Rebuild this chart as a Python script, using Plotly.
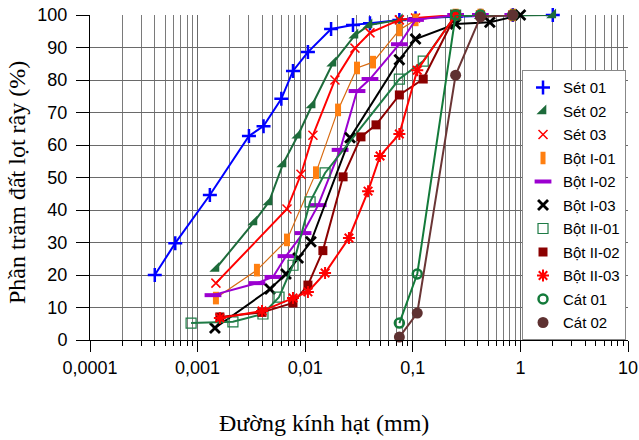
import plotly.graph_objects as go

# ---- data (diameter in mm, percent passing) ----
names = ["Sét 01", "Sét 02", "Sét 03", "Bột I-01", "Bột I-02", "Bột I-03",
         "Bột II-01", "Bột II-02", "Bột II-03", "Cát 01", "Cát 02"]

set01_x = [0.0004, 0.00062, 0.0013, 0.0030, 0.0041, 0.0060, 0.0077, 0.0106, 0.0174, 0.0278, 0.040, 0.075, 0.106, 0.25, 0.425, 0.85, 2.0]
set01_y = [20, 29.8, 44.6, 62.8, 65.8, 74.2, 82.8, 88.6, 95.7, 96.9, 97.5, 98.5, 99, 99.5, 99.8, 100, 100]

set02_x = [0.00148, 0.00334, 0.00461, 0.00622, 0.00857, 0.0116, 0.0181, 0.0290, 0.0392, 0.075, 0.25, 0.425, 0.85, 2.0]
set02_y = [22, 36.3, 42.5, 54.2, 63, 72.3, 85.2, 93.8, 96.9, 98.5, 99.7, 99.8, 100, 100]

set03_x = [0.00148, 0.00677, 0.00914, 0.0118, 0.0189, 0.0290, 0.0400, 0.075, 0.106, 0.25, 0.425, 0.85]
set03_y = [17.5, 40.3, 51, 63, 80, 89.8, 94.5, 98.5, 99.1, 100, 100, 100]

botI01_x = [0.00148, 0.00356, 0.00677, 0.0126, 0.0202, 0.0303, 0.0427, 0.075, 0.106, 0.25, 0.425, 0.85]
botI01_y = [12.9, 21.5, 30.8, 51.5, 70.8, 83.7, 85.5, 95.4, 98.5, 100, 100, 100]

botI02_x = [0.00139, 0.00356, 0.00502, 0.00663, 0.00955, 0.0132, 0.0211, 0.0303, 0.0400, 0.075, 0.106, 0.25, 0.425, 0.85]
botI02_y = [13.8, 17.5, 19.4, 25.8, 32.9, 41.5, 58.5, 76.6, 80.3, 91, 98.5, 100, 100, 100]

botI03_x = [0.00145, 0.00471, 0.00663, 0.0086, 0.0113, 0.0261, 0.075, 0.106, 0.25, 0.52, 1.0]
botI03_y = [3.7, 15.7, 20.3, 25.2, 30.2, 62.2, 86.2, 92.6, 97.2, 97.8, 100]

botII01_x = [0.00087, 0.00213, 0.00405, 0.00571, 0.0077, 0.0111, 0.0153, 0.075, 0.125, 0.25]
botII01_y = [5.2, 5.6, 8, 13.2, 23, 42.5, 51.4, 80.3, 85.8, 100]

botII02_x = [0.00161, 0.00397, 0.0077, 0.0106, 0.0146, 0.0225, 0.0330, 0.0455, 0.075, 0.125, 0.25]
botII02_y = [7.1, 8.5, 11.4, 16.9, 27.5, 50.2, 62.5, 66.2, 75.4, 80.3, 100]

botII03_x = [0.00161, 0.00397, 0.0077, 0.0106, 0.0153, 0.0255, 0.0384, 0.0496, 0.075, 0.11, 0.25]
botII03_y = [6.8, 8.9, 12.9, 14.8, 20.6, 31.4, 45.8, 56.6, 63.4, 83, 100]

cat01_x = [0.075, 0.11, 0.25, 0.425, 0.85]
cat01_y = [5.2, 20.3, 100, 100, 100]

cat02_x = [0.075, 0.11, 0.25, 0.425, 0.85]
cat02_y = [0.9, 8.3, 81.5, 99.4, 100]

xs = [set01_x, set02_x, set03_x, botI01_x, botI02_x, botI03_x, botII01_x, botII02_x, botII03_x, cat01_x, cat02_x]
ys = [set01_y, set02_y, set03_y, botI01_y, botI02_y, botI03_y, botII01_y, botII02_y, botII03_y, cat01_y, cat02_y]

x_tickvals = [0.0001, 0.001, 0.01, 0.1, 1, 10]
x_ticktext = ["0,0001", "0,001", "0,01", "0,1", "1", "10"]

x_title = "Đường kính hạt (mm)"
y_title = "Phần trăm đất lọt rây (%)"

# ---- styles: (line color, line width, marker symbol, marker size, marker color, marker line width) ----
styles = [
    ("#0000FF", 2, "cross-thin", 10, "#0000FF", 2.5),
    ("#1D6B3B", 2, "triangle-se", 11, "#1D6B3B", 0),
    ("#FF0000", 2, "x-thin", 9, "#FF0000", 1.5),
    ("#D86A10", 1.2, "line-ns", 9, "#FF7F10", 6),
    ("#9B00D0", 2, "line-ew", 12, "#9B00D0", 4),
    ("#000000", 2, "x-thin", 10, "#000000", 2.8),
    ("#1E7B45", 2, "square-open", 10, "#1E7B45", 1.2),
    ("#8B0000", 2, "square", 9, "#8B0000", 0),
    ("#FF0000", 2, "asterisk", 10, "#FF0000", 2),
    ("#137A3A", 2, "circle-open", 9, "#137A3A", 2.5),
    ("#6A3535", 2, "circle", 11, "#5E3131", 0),
]

fig = go.Figure()
for name, x, y, st in zip(names, xs, ys, styles):
    lc, lw, sym, ms, mc, mlw = st
    fig.add_trace(go.Scatter(
        x=x, y=y, mode="lines+markers", name=name, showlegend=False,
        line=dict(color=lc, width=lw),
        marker=dict(symbol=sym, size=ms, color=mc, line=dict(color=mc, width=mlw)),
        cliponaxis=False, legendgroup=name,
    ))
for name, st in zip(names, styles):
    lc, lw, sym, ms, mc, mlw = st
    fig.add_trace(go.Scatter(
        x=[None], y=[None], mode="markers", name=name, legendgroup=name,
        marker=dict(symbol=sym, size=ms, color=mc, line=dict(color=mc, width=mlw)),
    ))

minor_vals = [k * 10.0 ** e for e in range(-4, 1) for k in range(2, 10)]

title_font = dict(family="Liberation Serif, Times New Roman", size=24, color="black")

fig.update_layout(
    width=639, height=440,
    margin=dict(l=90, r=11, t=15, b=100, autoexpand=False),
    plot_bgcolor="white", paper_bgcolor="white",
    font=dict(family="Liberation Sans, Arial", color="black"),
    legend=dict(
        x=0.803, xanchor="left", y=0.83, yanchor="top",
        bgcolor="white", bordercolor="#888888", borderwidth=1,
        font=dict(family="Liberation Sans, Arial", size=15, color="black"),
        tracegroupgap=1, traceorder="grouped",
        entrywidth=56, entrywidthmode="pixels",
    ),
    xaxis=dict(
        type="log", range=[-4, 1], automargin=False,
        tickvals=x_tickvals, ticktext=x_ticktext,
        showgrid=True, gridcolor="#6a6a6a", gridwidth=1,
        minor=dict(tickvals=minor_vals, showgrid=True, gridcolor="#7a7a7a", gridwidth=1,
                   ticks="outside", ticklen=5, tickcolor="black"),
        ticks="outside", ticklen=11, tickcolor="black",
        showline=True, linecolor="black", linewidth=1,
        zeroline=False,
        tickfont=dict(family="Liberation Sans, Arial", size=18, color="black"),
    ),
    yaxis=dict(
        range=[0, 100], dtick=10, tick0=0, automargin=False,
        showgrid=True, gridcolor="#6a6a6a", gridwidth=1,
        ticks="outside", ticklen=13, tickcolor="black",
        showline=True, linecolor="black", linewidth=1,
        zeroline=False,
        ticklabelstandoff=5,
        tickfont=dict(family="Liberation Sans, Arial", size=18, color="black"),
    ),
    annotations=[
        dict(text=y_title, textangle=-90, showarrow=False,
             xref="paper", yref="paper", x=-0.1357, y=0.486,
             xanchor="center", yanchor="middle", font=title_font),
        dict(text=x_title, showarrow=False,
             xref="paper", yref="paper", x=0.435, y=-0.255,
             xanchor="center", yanchor="middle", font=title_font),
    ],
)

fig.write_html("out.html")
